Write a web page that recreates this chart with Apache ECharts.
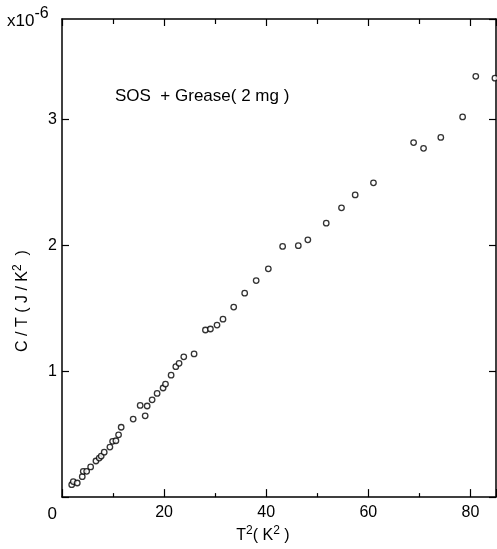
<!DOCTYPE html>
<html>
<head>
<meta charset="utf-8">
<script src="https://cdn.jsdelivr.net/npm/echarts@6/dist/echarts.min.js"></script>
<style>
html,body{margin:0;padding:0;background:#fff;}
#chart{width:497px;height:549px;}
</style>
</head>
<body>
<div id="chart"></div>
<script>
// T^2 (K^2)
const xs = [1.90, 2.21, 2.99, 3.97, 4.16, 4.83, 5.61, 6.65, 7.29, 7.68,
            8.27, 9.38, 9.91, 10.56, 11.08, 11.59, 13.94, 15.31, 16.29, 16.68,
            17.65, 18.63, 19.80, 20.27, 21.37, 22.29, 22.93, 23.85, 25.87, 28.09,
            29.07, 30.36, 31.53, 33.63, 35.78, 38.03, 40.41, 43.21, 46.28, 48.15,
            51.75, 54.74, 57.42, 61.00, 68.86, 70.81, 74.19, 78.46, 81.04, 84.79];
// C/T (x10^-6 J/K^2)
const ys = [0.099, 0.123, 0.112, 0.162, 0.205, 0.205, 0.240, 0.287, 0.310, 0.326,
            0.357, 0.398, 0.443, 0.448, 0.495, 0.555, 0.620, 0.729, 0.646, 0.724,
            0.773, 0.824, 0.867, 0.898, 0.969, 1.037, 1.063, 1.115, 1.138, 1.328,
            1.336, 1.367, 1.414, 1.510, 1.621, 1.721, 1.814, 1.992, 1.998, 2.045,
            2.177, 2.299, 2.402, 2.498, 2.818, 2.772, 2.859, 3.022, 3.344, 3.330];
const xTicks = [0, 20, 40, 60, 80];
const yTicks = [0, 1, 2, 3];
const annotation = 'SOS  + Grease( 2 mg )';
const xName = 'T{s|2}( K{s|2} )';
const yName = 'C / T ( J / K{s|2}  )';
const scaleLabel = 'x10{s|-6}';

const FONT = '"Liberation Sans", Arial, Helvetica, sans-serif';
const chart = echarts.init(document.getElementById('chart'), null, {renderer: 'canvas'});

const axisLineStyle = {color: '#000', width: 1.5};
const data = xs.map((x, i) => [x, ys[i]]);

chart.setOption({
  animation: false,
  backgroundColor: '#fff',
  title: [
    {
      text: scaleLabel, left: 7, top: 6, padding: 0,
      textStyle: {fontFamily: FONT, fontSize: 17, fontWeight: 'normal', color: '#000',
        rich: {s: {fontFamily: FONT, fontSize: 16, color: '#000', padding: [0, 0, 14, 0]}}}
    },
    {
      text: annotation, left: 115, top: 88, padding: 0,
      textStyle: {fontFamily: FONT, fontSize: 17, fontWeight: 'normal', color: '#000'}
    }
  ],
  grid: {left: 62, right: 1, top: 19, bottom: 44, containLabel: false},
  xAxis: [
    {
      type: 'value', position: 'bottom', min: 0, max: 85, interval: 20,
      name: xName, nameLocation: 'middle', nameGap: 20,
      nameTextStyle: {fontFamily: FONT, fontSize: 16, color: '#000', padding: [0, 32, 0, 0],
        rich: {s: {fontFamily: FONT, fontSize: 12, color: '#000', padding: [0, 0, 10, 0]}}},
      axisLine: {show: true, onZero: false, lineStyle: axisLineStyle},
      axisTick: {show: true, inside: true, length: 8, lineStyle: {color: '#000', width: 1.2}},
      minorTick: {show: true, splitNumber: 2, length: 4, lineStyle: {color: '#000', width: 1.2}},
      splitLine: {show: false},
      axisLabel: {
        fontFamily: FONT, fontSize: 16, color: '#000', margin: 7,
        showMinLabel: false, showMaxLabel: false,
        formatter: v => (xTicks.indexOf(v) >= 0 ? String(v) : '')
      }
    },
    {
      type: 'value', position: 'top', min: 0, max: 85, interval: 20,
      axisLine: {show: true, onZero: false, lineStyle: axisLineStyle},
      axisTick: {show: true, inside: true, length: 7, lineStyle: {color: '#000', width: 1.2}},
      minorTick: {show: true, splitNumber: 2, length: 5, lineStyle: {color: '#000', width: 1.2}},
      splitLine: {show: false},
      axisLabel: {show: false}
    }
  ],
  yAxis: [
    {
      type: 'value', position: 'left', min: 0, max: 3.8, interval: 1,
      name: yName, nameLocation: 'middle', nameGap: 28, nameRotate: 90,
      nameTextStyle: {fontFamily: FONT, fontSize: 16, color: '#000', padding: [0, 86, 0, 0],
        rich: {s: {fontFamily: FONT, fontSize: 12, color: '#000', padding: [0, 0, 10, 0]}}},
      axisLine: {show: true, onZero: false, lineStyle: axisLineStyle},
      axisTick: {show: true, inside: true, length: 7, lineStyle: {color: '#000', width: 1.2}},
      splitLine: {show: false},
      axisLabel: {
        fontFamily: FONT, fontSize: 16, color: '#000', margin: 5,
        showMaxLabel: false,
        formatter: v => (yTicks.indexOf(v) < 0 ? '' : (v === 0 ? '{z|0}' : String(v))),
        rich: {z: {fontFamily: FONT, fontSize: 17, color: '#000', padding: [34, 0, 0, 0]}}
      }
    },
    {
      type: 'value', position: 'right', min: 0, max: 3.8, interval: 1,
      axisLine: {show: true, onZero: false, lineStyle: axisLineStyle},
      axisTick: {show: true, inside: true, length: 7, lineStyle: {color: '#000', width: 1.2}},
      splitLine: {show: false},
      axisLabel: {show: false}
    }
  ],
  series: [{
    type: 'scatter',
    xAxisIndex: 0, yAxisIndex: 0,
    data: data,
    symbol: 'circle',
    symbolSize: 5.5,
    clip: true,
    itemStyle: {color: '#fff', borderColor: '#000', borderWidth: 1.3}
  }]
});
</script>
</body>
</html>
